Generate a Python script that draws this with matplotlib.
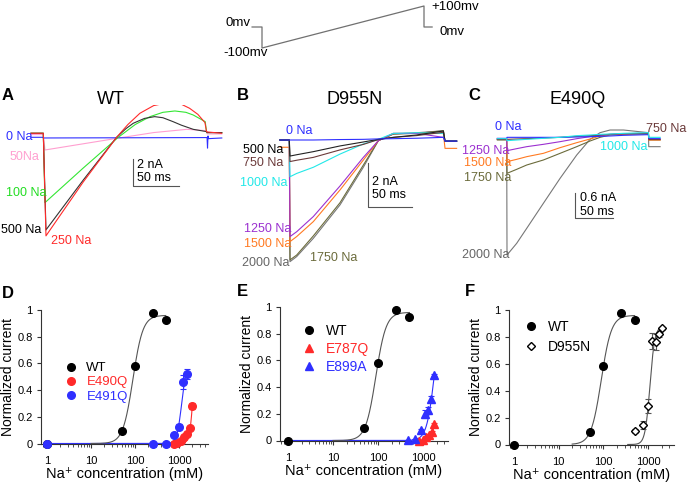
import matplotlib
matplotlib.use("Agg")
import matplotlib.pyplot as plt
import numpy as np

plt.rcParams['font.family'] = ['Liberation Sans', 'DejaVu Sans']

W, H = 688, 484

# ---- voltage protocol ----
PROT_T = [-11, 0, 0, 180, 180, 189]      # ms
PROT_V = [0, 0, -100, 100, 0, 0]         # mV

# ---- panel A (WT) traces: time ms, current nA ----
A_T0 = [-13.4, 0, 0, 178, 178.5, 179, 179.5, 194]
A_I0 = [0.0, 0.0, -0.05, -0.02, -0.8, 0.1, -0.1, -0.05]
A_T50 = [-13.4, 0, 1.8, 87, 120, 156, 177.5, 178, 194]
A_I50 = [0.2, 0.2, -0.94, 0, 0.35, 0.59, 0.49, 0.25, 0.25]
A_T100 = [-13.4, 0, 1.8, 43.5, 81.5, 100, 116, 130, 143, 155, 163, 176, 177.5, 194]
A_I100 = [0.3, 0.3, -4.84, -2.27, 0, 0.95, 1.53, 1.85, 1.95, 1.85, 1.65, 1.16, 0.35, 0.35]
A_T250 = [-13.4, 0, 2.9, 43.5, 79.7, 92, 105, 120, 137.7, 150, 159, 168, 175.7, 177.5, 194]
A_I250 = [0.3, 0.3, -7.3, -3.3, 0, 0.95, 1.78, 2.35, 2.6, 2.45, 2.15, 1.7, 1.09, 0.4, 0.3]
A_T500 = [-13.4, 0, 2.9, 43.5, 79.7, 90, 97.8, 110, 121, 130, 141, 150, 163, 177.5, 178, 194]
A_I500 = [0.3, 0.3, -6.86, -3.16, 0, 0.65, 1.04, 1.4, 1.53, 1.45, 1.16, 0.9, 0.59, 0.42, 0.35, 0.35]

# ---- panel B (D955N) traces ----
B_T = [-10.8, 0, 0.8, 8.5, 27.7, 58.5, 85.4, 102.7, 120, 147, 177.7, 179.6, 193]
B_I0 = [0, 0, 0, 0, 0, 0.02, 0.03, 0.05, 0.06, 0.08, 0.12, -0.05, -0.05]
B_I500 = [0, 0, -0.73, -0.67, -0.53, -0.27, -0.09, 0.03, 0.12, 0.23, 0.41, -0.05, -0.05]
B_I750 = [0, 0, -0.98, -0.92, -0.79, -0.45, -0.2, 0.02, 0.12, 0.2, 0.35, -0.05, -0.05]
B_I1000 = [0, 0, -1.67, -1.52, -1.24, -0.64, -0.18, 0.03, 0.3, 0.33, 0.3, -0.05, -0.05]
B_I1250 = [0, 0, -4.39, -4.17, -3.48, -2.09, -0.79, -0.03, 0.3, 0.3, 0.12, -0.05, -0.05]
B_I1500 = [-0.33, -0.33, -4.62, -4.39, -3.71, -2.27, -0.91, -0.03, 0.3, 0.3, 0.3, -0.38, -0.38]
B_I1750 = [0, 0, -5.45, -5.23, -4.36, -2.85, -1.14, -0.03, 0.27, 0.3, 0.42, -0.05, -0.05]
B_I2000 = [0, 0, -5.53, -5.3, -4.47, -2.95, -1.24, -0.03, 0.27, 0.33, 0.42, -0.05, -0.05]

# ---- panel C (E490Q) traces ----
C_T = [-12.2, 0, 0.4, 13, 26.1, 47.8, 69.6, 91.3, 108.7, 121.7, 134.8, 152.2, 184.8, 185.2, 200]
C_I0 = [-0.08, -0.08, -0.056, -0.056, -0.056, -0.056, -0.056, -0.048, -0.04, -0.032, -0.024, -0.008, 0.008, -0.08, -0.08]
C_I750 = [-0.104, -0.104, -0.104, -0.096, -0.088, -0.072, -0.056, -0.032, -0.016, 0, 0.016, 0.032, 0.04, -0.104, -0.104]
C_I1000 = [-0.088, -0.088, -0.136, -0.12, -0.104, -0.08, -0.056, -0.016, 0, 0.016, 0.024, 0.04, 0.056, -0.056, -0.056]
C_I1250 = [-0.088, -0.088, -0.376, -0.328, -0.28, -0.224, -0.16, -0.088, -0.04, -0.008, 0.016, 0.032, 0.04, -0.104, -0.104]
C_I1500 = [-0.104, -0.104, -0.64, -0.584, -0.52, -0.44, -0.304, -0.184, -0.096, -0.024, 0.008, 0.024, 0.04, -0.12, -0.12]
C_I1750 = [-0.12, -0.12, -0.92, -0.824, -0.72, -0.6, -0.44, -0.28, -0.144, -0.056, 0, 0.016, 0.024, -0.12, -0.12]
C_I2000 = [-0.104, -0.104, -2.88, -2.6, -2.24, -1.64, -1.04, -0.48, -0.104, 0.056, 0.12, 0.12, 0.056, -0.28, -0.28]

# ---- dose-response data (mM, normalized current) ----
WT_CONC = [1, 50, 100, 250, 500]
WT_CUR = [0, 0.093, 0.58, 0.98, 0.925]

E490Q_CONC = [750, 900, 1100, 1300, 1500, 1750, 2000]
E490Q_CUR = [0, 0.005, 0.02, 0.045, 0.07, 0.115, 0.28]
E490Q_ERR = [0, 0, 0, 0.005, 0.01, 0.01, 0.02]

E491Q_CONC = [1, 250, 500, 750, 1000, 1250, 1500]
E491Q_CUR = [0, 0, 0, 0.06, 0.125, 0.46, 0.52]
E491Q_ERR = [0, 0, 0, 0.01, 0.02, 0.05, 0.04]

E787Q_CONC = [800, 1000, 1170, 1380, 1560, 1750]
E787Q_CUR = [0, 0.005, 0.025, 0.04, 0.06, 0.12]
E787Q_ERR = [0, 0, 0.005, 0.005, 0.01, 0.01]

E899A_CONC = [460, 660, 890, 1100, 1260, 1480, 1750]
E899A_CUR = [0.005, 0.013, 0.075, 0.2, 0.23, 0.31, 0.49]
E899A_ERR = [0, 0, 0.01, 0.03, 0.02, 0.02, 0.01]

D955N_CONC = [500, 750, 1000, 1250, 1500, 1750, 2000]
D955N_CUR = [0.097, 0.147, 0.285, 0.77, 0.76, 0.82, 0.865]
D955N_ERR = [0.015, 0.03, 0.05, 0.06, 0.06, 0.02, 0.01]

# Hill fit parameters (max, K mM, n) estimated from the drawn fit curves
WT_FIT = (0.96, 89.5, 3.84)
E491Q_FIT = (0.6, 1150, 8)
E490Q_FIT = (1.0, 2200, 10)
E899A_FIT = (1.0, 1800, 5)
E787Q_FIT = (1.0, 2500, 6)
D955N_FIT = (0.88, 1100, 8)

BLUE = '#2f2fff'
RED = '#ff2a2a'
LBL = 9          # trace label font size


def hill(x, top, k, n):
    return top * x ** n / (x ** n + k ** n)


fig = plt.figure(figsize=(W / 100, H / 100), dpi=100)


def px_axes(left, top, right, bottom):
    return fig.add_axes([left / W, 1 - bottom / H, (right - left) / W, (bottom - top) / H])


def px_text(x, y, s, **kw):
    kw.setdefault('va', 'center')
    fig.text(x / W, 1 - y / H, s, **kw)


def trace_axes(left, top, right, bottom, x0, y0, px_ms, px_na):
    ax = px_axes(left, top, right, bottom)
    ax.set_xlim((left - x0) / px_ms, (right - x0) / px_ms)
    ax.set_ylim((y0 - bottom) / px_na, (y0 - top) / px_na)
    ax.axis('off')
    return ax


# ---- protocol ----
axp = trace_axes(240, 0, 440, 60, 262, 27, 0.9, 0.21)
axp.plot(PROT_T, PROT_V, color='#707070', lw=0.9)
px_text(251, 23, '0mv', ha='right', fontsize=9.5)
px_text(246, 53, '-100mv', ha='center', fontsize=9.5)
px_text(431, 7, '+100mv', ha='left', fontsize=9.5)
px_text(440, 32, '0mv', ha='left', fontsize=9.5)

LW = 0.8

# ---- panel A ----
axA = trace_axes(0, 105, 230, 290, 43.3, 137.3, 0.92, 13.5)
axA.plot(A_T50, A_I50, color='#ff9fd0', lw=LW)
axA.plot(A_T0, A_I0, color=BLUE, lw=LW)
axA.plot(A_T100, A_I100, color='#33e633', lw=LW)
axA.plot(A_T500, A_I500, color='#333333', lw=LW)
axA.plot(A_T250, A_I250, color=RED, lw=LW)
axA.plot([97.8, 97.8, 147.8], [-1.61, -3.61, -3.61], color='#555555', lw=0.8)
axA.text(101.8, -2.05, '2 nA', fontsize=LBL, va='center')
axA.text(101.8, -3.0, '50 ms', fontsize=LBL, va='center')
px_text(6, 137, '0 Na', color=BLUE, fontsize=LBL)
px_text(10, 157, '50Na', color='#ff9fd0', fontsize=LBL)
px_text(6, 193, '100 Na', color='#22dd22', fontsize=LBL)
px_text(1, 230, '500 Na', color='black', fontsize=LBL)
px_text(51, 241, '250 Na', color=RED, fontsize=LBL)
px_text(111, 99, 'WT', ha='center', fontsize=13)
px_text(2, 95, 'A', fontsize=12, fontweight='bold')

# ---- panel B ----
axB = trace_axes(230, 105, 460, 290, 289.3, 140, 0.867, 22)
for cur, col in [(B_I2000, '#777777'), (B_I1750, '#6b6b3b'), (B_I1500, '#ff7a22'),
                 (B_I1250, '#9b30d0'), (B_I1000, '#22e8e8'), (B_I750, '#6b3a3a'),
                 (B_I500, '#222222'), (B_I0, BLUE)]:
    axB.plot(B_T, cur, color=col, lw=LW)
axB.plot([91.2, 91.2, 141.2], [-1.06, -3.06, -3.06], color='#555555', lw=0.8)
axB.text(95.4, -1.9, '2 nA', fontsize=LBL, va='center')
axB.text(95.4, -2.5, '50 ms', fontsize=LBL, va='center')
px_text(286, 131, '0 Na', color=BLUE, fontsize=LBL)
px_text(243, 150, '500 Na', color='black', fontsize=LBL)
px_text(243, 163, '750 Na', color='#6b3a3a', fontsize=LBL)
px_text(240, 183, '1000 Na', color='#22e8e8', fontsize=LBL)
px_text(244, 229, '1250 Na', color='#9b30d0', fontsize=LBL)
px_text(244, 244, '1500 Na', color='#ff7a22', fontsize=LBL)
px_text(242, 263, '2000 Na', color='#666666', fontsize=LBL)
px_text(310, 258, '1750 Na', color='#6b6b3b', fontsize=LBL)
px_text(355, 100, 'D955N', ha='center', fontsize=13)
px_text(237, 95, 'B', fontsize=12, fontweight='bold')

# ---- panel C ----
axC = trace_axes(460, 105, 688, 290, 506.7, 135, 0.767, 41.67)
for cur, col in [(C_I2000, '#777777'), (C_I1750, '#6b6b3b'), (C_I1500, '#ff7a22'),
                 (C_I1250, '#9b30d0'), (C_I750, '#6b3a3a'), (C_I0, BLUE),
                 (C_I1000, '#22e8e8')]:
    axC.plot(C_T, cur, color=col, lw=LW)
axC.plot([89.1, 89.1, 139.1], [-1.4, -2.0, -2.0], color='#555555', lw=0.8)
axC.text(95.6, -1.51, '0.6 nA', fontsize=LBL, va='center')
axC.text(95.6, -1.85, '50 ms', fontsize=LBL, va='center')
px_text(495, 127, '0 Na', color=BLUE, fontsize=LBL)
px_text(686, 129, '750 Na', color='#6b3a3a', fontsize=LBL, ha='right')
px_text(600, 147, '1000 Na', color='#22e8e8', fontsize=LBL)
px_text(462, 151, '1250 Na', color='#9b30d0', fontsize=LBL)
px_text(464, 163, '1500 Na', color='#ff7a22', fontsize=LBL)
px_text(464, 178, '1750 Na', color='#6b6b3b', fontsize=LBL)
px_text(462, 255, '2000 Na', color='#666666', fontsize=LBL)
px_text(578, 100, 'E490Q', ha='center', fontsize=13)
px_text(468, 95, 'C', fontsize=12, fontweight='bold')


# ---- dose-response panels ----
def dose_axes(left, right, y0, y1, x1px, dec):
    ax = px_axes(left, y1, right, y0)
    ax.set_xscale('log')
    ax.set_xlim(10 ** ((left - x1px) / dec), 10 ** ((right - x1px) / dec))
    ax.set_ylim(0, 1)
    for s in ['top', 'right']:
        ax.spines[s].set_visible(False)
    for s in ['left', 'bottom']:
        ax.spines[s].set_linewidth(0.8)
        ax.spines[s].set_color('#333333')
    ax.set_xticks([1, 10, 100, 1000])
    ax.set_xticklabels(['1', '10', '100', '1000'])
    ax.set_yticks([0, 0.2, 0.4, 0.6, 0.8, 1])
    ax.set_yticklabels(['0', '0.2', '0.4', '0.6', '0.8', '1'])
    ax.tick_params(which='major', length=3, width=0.8, labelsize=8, color='#333333', pad=3)
    ax.tick_params(which='minor', length=2, width=0.6, color='#333333')
    ax.tick_params(axis='x', which='major', pad=6)
    ax.set_ylabel('Normalized current', fontsize=10, labelpad=2)
    ax.set_xlabel('Na\u207a concentration (mM)', fontsize=10.5, labelpad=1)
    return ax


def fit_line(ax, params, lo, hi, color):
    x = np.logspace(np.log10(lo), np.log10(hi), 300)
    ax.plot(x, hill(x, *params), color=color, lw=0.8, clip_on=False)


def points(ax, conc, cur, err, marker, color, label, mfc=None, ms=5.5):
    mec = color if mfc is None else 'black'
    if err is not None:
        ax.errorbar(conc, cur, yerr=err, fmt='none', ecolor=color, elinewidth=0.8,
                    capsize=2.5, capthick=0.8, clip_on=False, zorder=3)
    ax.plot(conc, cur, marker, color=color, mfc=mfc or color, mec=mec, ms=ms,
            clip_on=False, label=label, zorder=4)


def legend(ax, x, y, fs, spacing, colors):
    leg = ax.legend(loc='upper left', bbox_to_anchor=(x / W, 1 - y / H),
                    bbox_transform=fig.transFigure, frameon=False, fontsize=fs,
                    handlelength=1.0, handletextpad=0.7, labelspacing=spacing,
                    borderpad=0, borderaxespad=0)
    for t, c in zip(leg.get_texts(), colors):
        t.set_color(c)


# D
axD = dose_axes(41, 208, 443.5, 310, 47, 44)
fit_line(axD, E491Q_FIT, 1, 1500, BLUE)
fit_line(axD, E490Q_FIT, 600, 2000, RED)
fit_line(axD, WT_FIT, 10, 500, '#555555')
points(axD, WT_CONC, WT_CUR, None, 'o', 'black', 'WT')
points(axD, E490Q_CONC, E490Q_CUR, E490Q_ERR, 'o', RED, 'E490Q')
points(axD, E491Q_CONC, E491Q_CUR, E491Q_ERR, 'o', BLUE, 'E491Q')
legend(axD, 64, 362, 9.5, 0.15, ['black', RED, BLUE])
px_text(2, 293, 'D', fontsize=12, fontweight='bold')

# E
axE = dose_axes(280, 448, 440.5, 307, 288, 45)
fit_line(axE, E899A_FIT, 1, 1750, BLUE)
fit_line(axE, E787Q_FIT, 700, 1750, RED)
fit_line(axE, WT_FIT, 10, 500, '#555555')
points(axE, WT_CONC, WT_CUR, None, 'o', 'black', 'WT')
points(axE, E787Q_CONC, E787Q_CUR, E787Q_ERR, '^', RED, 'E787Q')
points(axE, E899A_CONC, E899A_CUR, E899A_ERR, '^', BLUE, 'E899A')
legend(axE, 302, 324, 10, 0.3, ['black', RED, BLUE])
px_text(237, 292, 'E', fontsize=12, fontweight='bold')

# F
axF = dose_axes(509, 674, 444.5, 310, 514, 44.7)
fit_line(axF, WT_FIT, 20, 500, '#555555')
fit_line(axF, D955N_FIT, 350, 2000, '#555555')
points(axF, WT_CONC, WT_CUR, None, 'o', 'black', 'WT')
points(axF, D955N_CONC, D955N_CUR, D955N_ERR, 'D', '#555555', 'D955N', mfc='white', ms=4.5)
legend(axF, 524, 320, 10, 0.45, ['black', 'black'])
px_text(465, 292, 'F', fontsize=12, fontweight='bold')

fig.savefig('out.png', dpi=100)
